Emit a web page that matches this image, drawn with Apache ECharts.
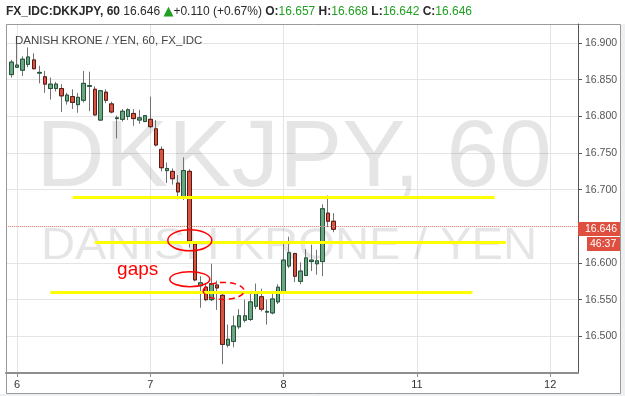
<!DOCTYPE html>
<html>
<head>
<meta charset="utf-8">
<script src="https://cdn.jsdelivr.net/npm/echarts@6/dist/echarts.min.js"></script>
<style>
html, body { margin: 0; padding: 0; background: #fff; }
#main { width: 625px; height: 396px; }
</style>
</head>
<body>
<div id="main"></div>
<script>
// symbol info
var feed = 'FX_IDC', ticker = 'DKKJPY', resolution = '60', pairName = 'DANISH KRONE / YEN';
var changeText = '+0.110 (+0.67%)';
var timerText = '46:37';

// hourly slots on the axis (weekend skipped between 8 and 11)
var tradingDays = ['5', '6', '7', '8', '11', '12'];
var firstSlot = '5 22:00', lastSlot = '12 05:00', firstCandle = '5 23:00';

// hourly candles
var openP  = [16.857,16.867,16.863,16.871,16.877,16.859,16.854,16.838,16.838,16.838,
              16.821,16.827,16.816,16.822,16.841,16.837,16.795,16.833,16.817,16.797,
              16.796,16.800,16.804,16.795,16.793,16.796,16.783,16.755,16.726,16.725,
              16.709,16.690,16.725,16.626,16.569,16.567,16.550,16.570,16.556,16.488,
              16.493,16.513,16.522,16.523,16.541,16.554,16.533,16.532,16.547,16.559,
              16.596,16.613,16.575,16.583,16.602,16.599,16.602,16.668,16.657];
var highP  = [16.877,16.900,16.882,16.894,16.886,16.869,16.862,16.853,16.847,16.844,
              16.832,16.837,16.832,16.862,16.861,16.841,16.836,16.837,16.820,16.801,
              16.810,16.811,16.810,16.809,16.802,16.827,16.795,16.759,16.737,16.729,
              16.720,16.744,16.728,16.628,16.582,16.573,16.599,16.576,16.559,16.516,
              16.528,16.537,16.550,16.559,16.572,16.565,16.550,16.559,16.571,16.626,
              16.636,16.614,16.601,16.619,16.625,16.618,16.680,16.692,16.668];
var lowP   = [16.853,16.866,16.855,16.867,16.864,16.845,16.832,16.823,16.834,16.806,
              16.816,16.810,16.805,16.819,16.807,16.801,16.794,16.818,16.804,16.770,
              16.793,16.795,16.787,16.790,16.792,16.784,16.759,16.725,16.709,16.707,
              16.687,16.686,16.621,16.575,16.539,16.548,16.548,16.536,16.462,16.485,
              16.485,16.510,16.519,16.521,16.537,16.534,16.516,16.530,16.544,16.558,
              16.593,16.574,16.571,16.582,16.589,16.584,16.582,16.649,16.642];
var closeP = [16.874,16.870,16.878,16.881,16.865,16.860,16.844,16.844,16.844,16.828,
              16.829,16.819,16.826,16.845,16.842,16.802,16.835,16.822,16.806,16.798,
              16.807,16.809,16.797,16.798,16.801,16.786,16.761,16.730,16.729,16.715,
              16.697,16.726,16.630,16.577,16.573,16.550,16.572,16.566,16.489,16.496,
              16.514,16.528,16.528,16.547,16.559,16.537,16.534,16.551,16.567,16.604,
              16.614,16.582,16.589,16.607,16.604,16.603,16.674,16.657,16.646];

// hand-drawn support / resistance levels
var levelPrices = [16.690, 16.628, 16.560];

var slots = [];
tradingDays.forEach(function (d) {
  for (var h = 0; h < 24; h++) slots.push(d + ' ' + (h < 10 ? '0' : '') + h + ':00');
});
slots = slots.slice(slots.indexOf(firstSlot), slots.indexOf(lastSlot) + 1);
var start = slots.indexOf(firstCandle);

var candleData = openP.map(function (o, i) {
  return [start + i, o, closeP[i], lowP[i], highP[i]];
});
// bodies only, drawn on top so the wicks can stay grey
var bodyData = openP.map(function (o, i) {
  return [start + i, o, closeP[i], Math.min(o, closeP[i]), Math.max(o, closeP[i])];
});

var last = openP.length - 1;
var fmt = function (v) { return v.toFixed(3); };
var isDayStart = function (idx, val) { return /00:00$/.test(val); };

var upFill = '#6ba583', upLine = '#225437';
var downFill = '#d75442', downLine = '#5b1a13';
var wickColor = '#737375';
var yellow = '#ffff00', annRed = '#ff0000', priceRed = '#df4f3f';
var green = '#22a022';

var chart = echarts.init(document.getElementById('main'));

var option = {
  animation: false,
  grid: { left: 6, right: 47, top: 24, bottom: 23 },
  xAxis: {
    type: 'category',
    data: slots,
    boundaryGap: false,
    axisLine: { lineStyle: { color: '#8e8e8e', width: 2 } },
    axisTick: { interval: isDayStart, length: 4, lineStyle: { color: '#8e8e8e' } },
    axisLabel: {
      interval: isDayStart,
      formatter: function (v) { return v.split(' ')[0]; },
      color: '#333', fontSize: 11, fontFamily: 'Liberation Sans', margin: 6
    },
    splitLine: { show: true, interval: isDayStart, lineStyle: { color: '#e4e4e4' } }
  },
  yAxis: {
    type: 'value',
    position: 'right',
    min: 16.45, max: 16.926, interval: 0.05,
    axisLine: { show: true, lineStyle: { color: '#555' } },
    axisTick: { show: true, length: 4, lineStyle: { color: '#555' } },
    axisLabel: {
      color: '#555', fontSize: 10.5, fontFamily: 'Liberation Sans', margin: 7,
      // the tick hidden under the last-price box is left blank
      formatter: function (v) { return Math.abs(v - closeP[last]) < 0.01 ? '' : fmt(v); },
      showMinLabel: false, showMaxLabel: false
    },
    splitLine: { lineStyle: { color: '#e4e4e4' } }
  },
  series: [
    {
      name: 'wicks', type: 'candlestick', z: 3,
      encode: { x: 0, y: [1, 2, 3, 4] },
      data: candleData, barWidth: 4,
      itemStyle: { color: upFill, color0: downFill, borderColor: wickColor,
                   borderColor0: wickColor, borderColorDoji: wickColor, borderWidth: 1 }
    },
    {
      name: 'bodies', type: 'candlestick', z: 4,
      encode: { x: 0, y: [1, 2, 3, 4] },
      data: bodyData, barWidth: 4,
      itemStyle: { color: upFill, color0: downFill, borderColor: upLine,
                   borderColor0: downLine, borderColorDoji: upLine, borderWidth: 1 },
      markLine: {
        silent: true, symbol: ['none', 'none'], label: { show: false },
        data: [
          [{ coord: [slots[12], levelPrices[0]] }, { coord: [slots[88], levelPrices[0]] }],
          [{ coord: [slots[16], levelPrices[1]] }, { coord: [slots[90], levelPrices[1]] }],
          [{ coord: [slots[8], levelPrices[2]] }, { coord: [slots[84], levelPrices[2]] }],
          { yAxis: closeP[last], lineStyle: { color: '#ec8c80', type: 'dotted', width: 1 } }
        ],
        lineStyle: { color: yellow, width: 3, type: 'solid' }
      }
    }
  ]
};
chart.setOption(option);

// annotation anchors in (slot, price)
var gapMarks = [
  { slot: 33.1, price: 16.631, rx: 22, ry: 10.5, dashed: false },
  { slot: 33.1, price: 16.578, rx: 20, ry: 7.5, dashed: false },
  { slot: 39.2, price: 16.562, rx: 20.5, ry: 8.5, dashed: true }
];
var gapsLabel = { slot: 20, price: 16.578, text: 'gaps' };

function toPx(slot, price) {
  var a = chart.convertToPixel({ xAxisIndex: 0, yAxisIndex: 0 }, [0, price]);
  var b = chart.convertToPixel({ xAxisIndex: 0, yAxisIndex: 0 }, [1, price]);
  return [a[0] + (b[0] - a[0]) * slot, a[1]];
}

var graphics = [];
// frame and outer margins
graphics.push({ type: 'rect', z: 0, shape: { x: 6.5, y: 24.5, width: 614, height: 369 },
  style: { fill: 'none', stroke: '#9a9a9a', lineWidth: 1 } });
graphics.push({ type: 'rect', z: 0, shape: { x: 621, y: 24, width: 4, height: 372 },
  style: { fill: '#eff0f2' } });
graphics.push({ type: 'rect', z: 0, shape: { x: 0, y: 394, width: 625, height: 2 },
  style: { fill: '#eff0f2' } });
// watermark
graphics.push({ type: 'text', z: 1, x: 294, y: 160, silent: true,
  style: { text: ticker + ', ' + resolution, font: '95px "Liberation Sans"',
           fill: 'rgba(0,0,0,0.1)', align: 'center', verticalAlign: 'middle' } });
graphics.push({ type: 'text', z: 1, x: 289, y: 247, scaleX: 1.05, silent: true,
  style: { text: pairName, font: '45px "Liberation Sans"',
           fill: 'rgba(0,0,0,0.1)', align: 'center', verticalAlign: 'middle' } });
// header
graphics.push({ type: 'text', z: 10, x: 6, y: 12,
  style: {
    text: '{b|' + feed + ':' + ticker + ', ' + resolution + '} {n|' + fmt(closeP[last]) + '} {g|▲}{n|' +
          changeText + '} {b|O:}{v|' + fmt(openP[last]) + '} {b|H:}{v|' + fmt(highP[last]) +
          '} {b|L:}{v|' + fmt(lowP[last]) + '} {b|C:}{v|' + fmt(closeP[last]) + '}',
    verticalAlign: 'middle',
    rich: {
      b: { fontFamily: 'Liberation Sans', fontSize: 12, fontWeight: 'bold', fill: '#2a2a2a' },
      n: { fontFamily: 'Liberation Sans', fontSize: 12, fill: '#2a2a2a' },
      g: { fontFamily: 'DejaVu Sans', fontSize: 13, fill: green },
      v: { fontFamily: 'Liberation Sans', fontSize: 12, fill: green }
    }
  } });
// legend inside pane
graphics.push({ type: 'text', z: 10, x: 15, y: 41,
  style: { text: pairName + ', ' + resolution + ', ' + feed, font: '11.5px "Liberation Sans"',
           fill: '#444', verticalAlign: 'middle' } });
// hand-drawn annotations
gapMarks.forEach(function (m) {
  var p = toPx(m.slot, m.price);
  graphics.push({ type: 'ellipse', z: 20, silent: true,
    shape: { cx: p[0], cy: p[1], rx: m.rx, ry: m.ry },
    style: { fill: 'none', stroke: annRed, lineWidth: 1.5, lineDash: m.dashed ? [6, 4] : null } });
});
var gp = toPx(gapsLabel.slot, gapsLabel.price);
graphics.push({ type: 'text', z: 20, x: gp[0], y: gp[1], silent: true,
  style: { text: gapsLabel.text, font: '19px "Liberation Sans"', fill: annRed, verticalAlign: 'bottom' } });
// last price and bar timer on the axis
var lp = toPx(0, closeP[last]);
graphics.push({ type: 'rect', z: 30, shape: { x: 578, y: Math.round(lp[1]) - 7, width: 42, height: 14 },
  style: { fill: priceRed } });
graphics.push({ type: 'text', z: 31, x: 585, y: Math.round(lp[1]),
  style: { text: fmt(closeP[last]), font: '10.5px "Liberation Sans"', fill: '#fff', verticalAlign: 'middle' } });
graphics.push({ type: 'rect', z: 30, shape: { x: 587, y: Math.round(lp[1]) + 8, width: 33, height: 14 },
  style: { fill: priceRed } });
graphics.push({ type: 'text', z: 31, x: 590, y: Math.round(lp[1]) + 15,
  style: { text: timerText, font: '10.5px "Liberation Sans"', fill: '#fff', verticalAlign: 'middle' } });

chart.setOption({ graphic: graphics });

window.onresize = function () { chart.resize(); };
</script>
</body>
</html>
